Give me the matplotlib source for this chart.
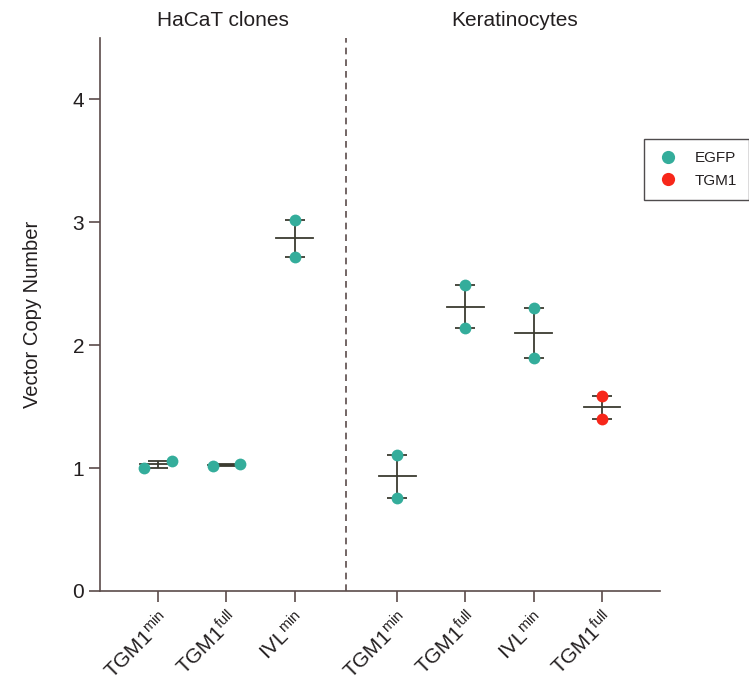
import matplotlib
matplotlib.use("Agg")
import matplotlib.pyplot as plt
from matplotlib.lines import Line2D
import numpy as np

plt.rcParams["font.family"] = ["Liberation Sans", "DejaVu Sans"]
plt.rcParams["mathtext.fontset"] = "custom"
plt.rcParams["mathtext.rm"] = "Liberation Sans"
plt.rcParams["mathtext.it"] = "Liberation Sans"

# ---- data ----
labels = [r"TGM1$^{\rm min}$", r"TGM1$^{\rm full}$", r"IVL$^{\rm min}$",
          r"TGM1$^{\rm min}$", r"TGM1$^{\rm full}$", r"IVL$^{\rm min}$", r"TGM1$^{\rm full}$"]
groups = ["HaCaT clones", "HaCaT clones", "HaCaT clones",
          "Keratinocytes", "Keratinocytes", "Keratinocytes", "Keratinocytes"]
rep1 = [1.00, 1.02, 3.02, 1.11, 2.49, 2.30, 1.59]
rep2 = [1.06, 1.03, 2.72, 0.76, 2.14, 1.90, 1.40]
marker = ["EGFP", "EGFP", "EGFP", "EGFP", "EGFP", "EGFP", "TGM1"]

colors = {"EGFP": "#34AD9B", "TGM1": "#F7271A"}
text_c = "#231F20"
axis_c = "#5B4C4A"
bar_c = "#3B3B30"

# layout: x positions with a gap between the two cell types
pos = np.array([0, 1, 2, 3.5, 4.5, 5.5, 6.5])
spread = [0.2, 0.2, 0, 0, 0, 0, 0]

fig = plt.figure(figsize=(7.49, 6.84), dpi=100)
ax = fig.add_axes([100 / 749, 1 - 591 / 684, 560 / 749, 553 / 684])

for i in range(len(pos)):
    vals = np.array([rep1[i], rep2[i]])
    m = vals.mean()
    half = abs(vals[0] - vals[1]) / 2
    ax.errorbar(pos[i], m, yerr=half, fmt="none", ecolor=bar_c, elinewidth=1.3,
                capsize=7, capthick=1.3, zorder=2)
    ax.plot([pos[i] - 0.27, pos[i] + 0.27], [m, m], color=bar_c, lw=1.3, zorder=2)
    xs = [pos[i] - spread[i], pos[i] + spread[i]]
    ax.plot(xs, vals, "o", ms=8.5, color=colors[marker[i]], mec="none", zorder=3)

ax.axvline(2.75, color=axis_c, ls=(0, (4, 3)), lw=1.2)

ax.set_xlim(-0.85, 7.35)
ax.set_ylim(0, 4.5)
ax.set_yticks([0, 1, 2, 3, 4])
ax.set_xticks(pos)
ax.set_xticklabels(labels, rotation=45, ha="right", rotation_mode="anchor",
                   fontsize=15, color=text_c)
ax.tick_params(axis="y", labelsize=15, labelcolor=text_c, color=axis_c,
               length=8, width=1.2)
ax.tick_params(axis="x", color=axis_c, length=8, width=1.2, pad=4)
for s in ["top", "right"]:
    ax.spines[s].set_visible(False)
for s in ["left", "bottom"]:
    ax.spines[s].set_color(axis_c)
    ax.spines[s].set_linewidth(1.2)

ax.set_ylabel("Vector Copy Number", fontsize=14.5, color=text_c, labelpad=22)

fig.text(223 / 749, 1 - 20 / 684, groups[0], ha="center", va="center",
         fontsize=15, color=text_c)
fig.text(515 / 749, 1 - 20 / 684, groups[3], ha="center", va="center",
         fontsize=15, color=text_c)

handles = [Line2D([], [], ls="none", marker="o", ms=9.5, mec="none", color=colors[k])
           for k in ["EGFP", "TGM1"]]
leg = fig.legend(handles, ["EGFP", "TGM1"], loc="upper right",
                 bbox_to_anchor=(1.0, 1 - 139 / 684), borderaxespad=0,
                 fontsize=11, frameon=True, fancybox=False, edgecolor=text_c,
                 handletextpad=1.0, borderpad=0.8, labelspacing=0.55,
                 handlelength=1.5)
leg.get_frame().set_linewidth(1.0)
for t in leg.get_texts():
    t.set_color(text_c)

fig.savefig("out.png", dpi=100)
